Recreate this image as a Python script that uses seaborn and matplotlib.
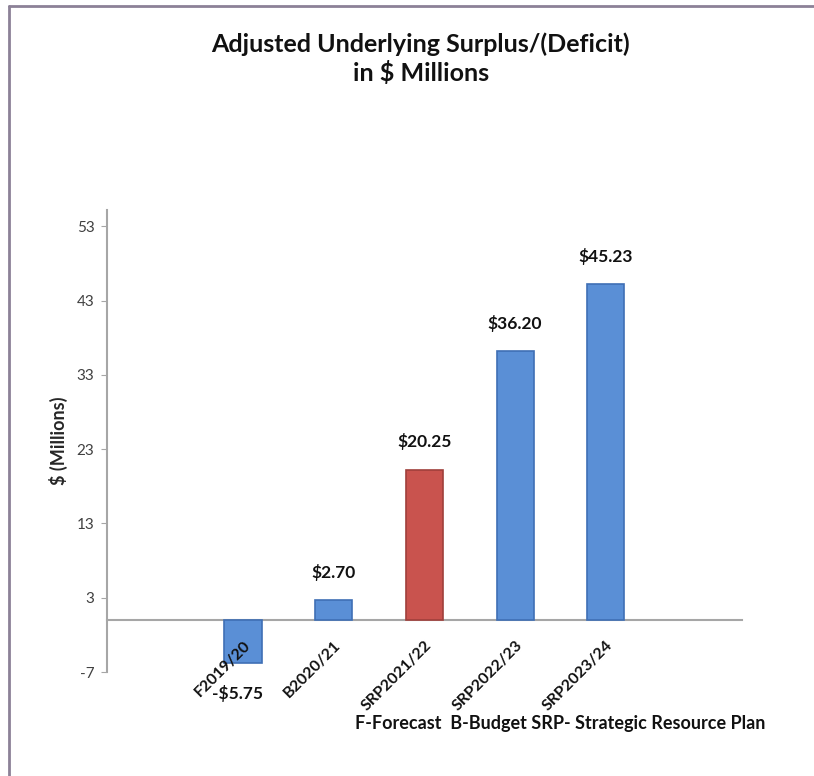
import matplotlib
matplotlib.use('Agg')
import matplotlib.pyplot as plt
import seaborn as sns
import pandas as pd
from matplotlib.lines import Line2D

categories = ['F2019/20', 'B2020/21', 'SRP2021/22', 'SRP2022/23', 'SRP2023/24']
values = [-5.75, 2.70, 20.25, 36.20, 45.23]
bar_colors = ['#5A8FD6', '#5A8FD6', '#C9534E', '#5A8FD6', '#5A8FD6']
edge_colors = ['#3F6FB5', '#3F6FB5', '#A03F3B', '#3F6FB5', '#3F6FB5']
y_ticks = [-7, 3, 13, 23, 33, 43, 53]

sns.set_style('white')
plt.rcParams['font.family'] = ['Lato', 'DejaVu Sans']
plt.rcParams['axes.unicode_minus'] = False

df = pd.DataFrame({'period': categories, 'value': values})

fig = plt.figure(figsize=(8.14, 7.76), dpi=100)
ax = fig.add_axes([0.1314, 0.134, 0.78, 0.5954])

sns.barplot(data=df, x='period', y='value', hue='period', palette=bar_colors,
            legend=False, width=0.41, ax=ax, saturation=1)
for patch, ec in zip(ax.patches, edge_colors):
    patch.set_edgecolor(ec)
    patch.set_linewidth(1.2)

ax.set_xlim(-1.5, 5.5)
ax.set_ylim(-7, 55.2)
ax.set_yticks(y_ticks)

for s in ['top', 'right']:
    ax.spines[s].set_visible(False)
ax.spines['bottom'].set_position(('data', 0))
for s in ['left', 'bottom']:
    ax.spines[s].set_color('#A6A6A6')
    ax.spines[s].set_linewidth(1.5)
ax.spines['bottom'].set_zorder(0)
ax.xaxis.set_zorder(3)  # category labels sit on top of the negative bar

ax.tick_params(axis='y', length=4, color='#A6A6A6', labelsize=11, labelcolor='#404040', left=True, pad=5)
ax.tick_params(axis='x', length=0, pad=13)
ax.set_xticks(range(len(categories)))
ax.set_xticklabels(categories, rotation=45, ha='right', rotation_mode='anchor',
                   fontsize=11.5, fontweight='bold', color='#111111')
ax.set_xlabel('')
ax.set_ylabel('$ (Millions)', fontsize=13, fontweight='bold', labelpad=6)

for i, v in enumerate(values):
    off = 20 if v >= 0 else -22
    ax.annotate(f'${v:.2f}' if v >= 0 else f'-${-v:.2f}', (i, v), xytext=(0 if v >= 0 else -4, off),
                textcoords='offset points', ha='center', va='center',
                fontsize=12.5, fontweight='bold', color='#111111', zorder=4)

fig.text(0.517, 0.9245, 'Adjusted Underlying Surplus/(Deficit)\nin $ Millions', ha='center', va='center',
         fontsize=18, fontweight='bold', color='#111111', linespacing=1.25)
fig.text(0.436, 0.068, 'F-Forecast  B-Budget SRP- Strategic Resource Plan', ha='left', va='center',
         fontsize=13, fontweight='bold', color='#111111')

# chart frame (top and left edges visible)
fig.add_artist(Line2D([0.011, 1.0], [0.9925, 0.9925], color='#8C8197', linewidth=2))
fig.add_artist(Line2D([0.011, 0.011], [0.0, 0.9925], color='#8C8197', linewidth=2))

fig.savefig('out.png', dpi=100)
